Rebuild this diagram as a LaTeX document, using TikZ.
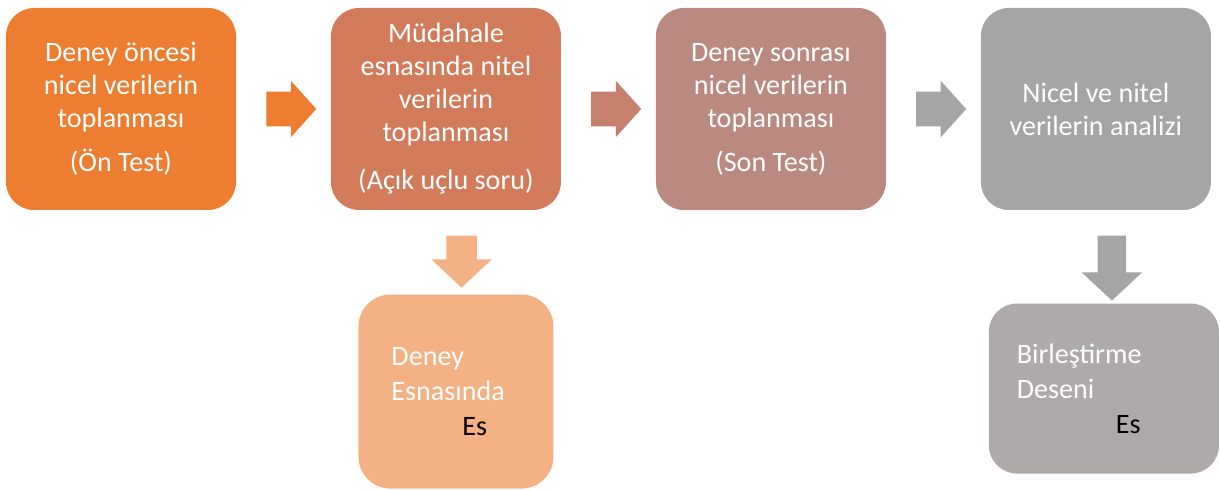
\documentclass[tikz,border=0pt]{standalone}
\usepackage{fontspec}
\setmainfont{Carlito}
\usetikzlibrary{positioning}
\usetikzlibrary{shapes.arrows}
\usetikzlibrary{calc}
\definecolor{stageA}{RGB}{237,125,49}
\definecolor{stageB}{RGB}{209,123,91}
\definecolor{stageC}{RGB}{186,138,128}
\definecolor{stageD}{RGB}{165,165,165}
\definecolor{resultA}{RGB}{244,177,131}
\definecolor{resultB}{RGB}{174,170,170}
\definecolor{arrowB}{RGB}{200,128,110}

\begin{document}
\begin{tikzpicture}[stage/.style={rectangle, rounded corners=0.7cm, minimum width=5.75cm, minimum height=5.05cm, inner sep=0pt, text=white, align=center, font=\fontsize{20}{23.5}\selectfont},
        result/.style={rectangle, inner ysep=0pt, text=white, align=left, font=\fontsize{20}{25}\selectfont},
        harrow/.style={single arrow, single arrow head extend=0.275cm, single arrow tip angle=96, minimum height=1.25cm, inner xsep=0pt, inner ysep=0.425cm},
        varrow/.style={single arrow, rotate=-90, anchor=tail, single arrow head extend=0.375cm, single arrow tip angle=94, inner xsep=0pt, inner ysep=0.375cm}]
        \useasboundingbox (0,0) rectangle (30.5,-12.25);

        % top row
        \node[stage, fill=stageA](box1) at (3.025, -2.725) {Deney öncesi\\nicel verilerin\\toplanması\\[0.275cm](Ön Test)};
        \node[stage, fill=stageB, right=2.36cm of box1](box2) {Müdahale\\esnasında nitel\\verilerin\\toplanması\\[0.375cm](Açık uçlu soru)};
        \node[stage, fill=stageC, right=2.36cm of box2](box3) {Deney sonrası\\nicel verilerin\\toplanması\\[0.275cm](Son Test)};
        \node[stage, fill=stageD, right=2.36cm of box3](box4) {Nicel ve nitel\\verilerin analizi};

        % bottom row
        \node[result, fill=resultA, rounded corners=0.8cm, text width=3.225cm, inner xsep=0.825cm, minimum height=4.85cm, below=2.1cm of box2, xshift=0.25cm](box5) {Deney\\Esnasında\\\hspace*{1.775cm}\textcolor{black}{Es}};
        \node[result, fill=resultB, rounded corners=0.7cm, text width=4.35cm, inner xsep=0.7cm, minimum height=4.25cm, below=2.325cm of box4, xshift=0.2cm](box6) {Birleştirme\\Deseni\\\hspace*{2.475cm}\textcolor{black}{Es}};

        % block arrows
        \node[harrow, fill=stageA](arr1) at ($(box1.east)!0.5!(box2.west)$) {};
        \node[harrow, fill=arrowB](arr2) at ($(box2.east)!0.5!(box3.west)$) {};
        \node[harrow, fill=stageD](arr3) at ($(box3.east)!0.5!(box4.west)$) {};
        \node[varrow, fill=resultA, minimum height=1.3cm](arr4) at ([xshift=0.39cm, yshift=-0.625cm]box2.south) {};
        \node[varrow, fill=stageD, minimum height=1.625cm, inner ysep=0.35cm, single arrow head extend=0.4cm](arr5) at ([xshift=0.4cm, yshift=-0.625cm]box4.south) {};
\end{tikzpicture}
\end{document}
